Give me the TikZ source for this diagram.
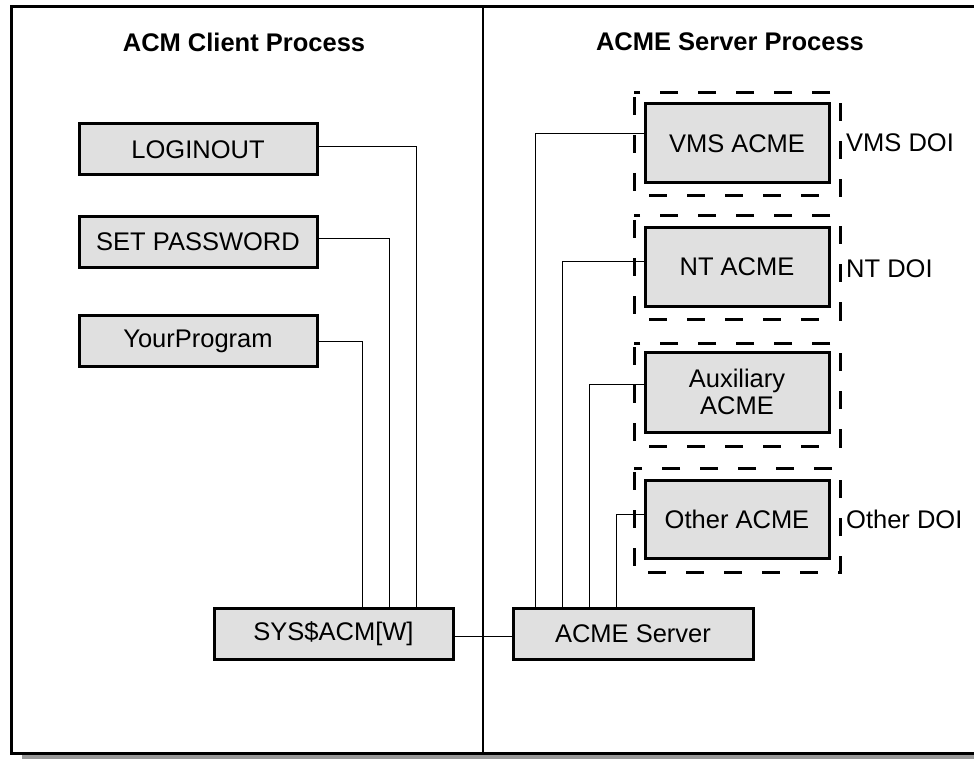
\documentclass[tikz,border=0pt]{standalone}
\usepackage{fontspec}
\setmainfont{Liberation Sans}
\begin{document}
\begin{tikzpicture}[x=1pt,y=-1pt,
  every node/.style={font=\fontsize{25.5}{27}\selectfont},
  proc/.style={draw=black, line width=3pt, fill=black!12, minimum height=51pt, inner sep=0pt},
  acme/.style={draw=black, line width=3pt, fill=black!12, minimum width=184pt, inner sep=0pt, align=center},
  doi/.style={draw=black, line width=3pt, dash pattern=on 18pt off 20pt, dash phase=-4pt},
  link/.style={draw=black, line width=1pt},
  ttl/.style={font=\fontsize{25.5}{27}\selectfont\bfseries}
]
\useasboundingbox (0,0) rectangle (974,759);
% shadow and frame
\fill[black!40] (22,12) rectangle (1000,770);
\draw[line width=3pt, fill=white] (11,7) rectangle (990,753);
\draw[line width=1.3pt] (483,7) -- (483,753);

\node[ttl] (tc) at (244,42) {ACM Client Process};
\node[ttl] (ts) at (730,42) {ACME Server Process};

% client boxes
\node[proc, minimum width=238pt] (login) at (198,149.5) {LOGINOUT};
\node[proc, minimum width=238pt] (setpw) at (198,242) {SET PASSWORD};
\node[proc, minimum width=238pt] (yourp) at (198,341) {YourProgram};
\node[proc, minimum width=239pt] (sys) at (333.5,633.5) {SYS\$ACM[W]};
\node[proc, minimum width=240pt] (srv) at (633,633.5) {ACME Server};

% DOI dashed boxes
\draw[doi] (634,93) rectangle (840,196);
\draw[doi] (634,216) rectangle (840,319);
\draw[doi] (634,343) rectangle (840,446);
\draw[doi] (634,468) rectangle (840,572);

% ACME boxes
\node[acme, minimum height=79pt] (vms) at (737,143.5) {VMS ACME};
\node[acme, minimum height=78pt] (nt) at (737,267) {NT ACME};
\node[acme, minimum height=80pt] (aux) at (737,392) {Auxiliary\\ACME};
\node[acme, minimum height=78pt] (oth) at (737,519) {Other ACME};

\node[anchor=west, inner sep=0pt] (lvms) at (846,143) {VMS DOI};
\node[anchor=west, inner sep=0pt] (lnt) at (846,269) {NT DOI};
\node[anchor=west, inner sep=0pt] (loth) at (846,519) {Other DOI};

% client connectors
\draw[link] ([yshift=2.5pt]login.east) -| ([xshift=82.5pt]sys.north);
\draw[link] ([yshift=3pt]setpw.east) -| ([xshift=55.5pt]sys.north);
\draw[link] (yourp.east) -| ([xshift=28.5pt]sys.north);
\draw[link] ([yshift=-2.5pt]sys.east) -- ([yshift=-2.5pt]srv.west);

% server connectors
\draw[link] ([yshift=9.5pt]vms.west) -| ([xshift=-98pt]srv.north);
\draw[link] ([yshift=5pt]nt.west) -| ([xshift=-71pt]srv.north);
\draw[link] ([yshift=8pt]aux.west) -| ([xshift=-44pt]srv.north);
\draw[link] ([yshift=5pt]oth.west) -| ([xshift=-17pt]srv.north);
\end{tikzpicture}
\end{document}
